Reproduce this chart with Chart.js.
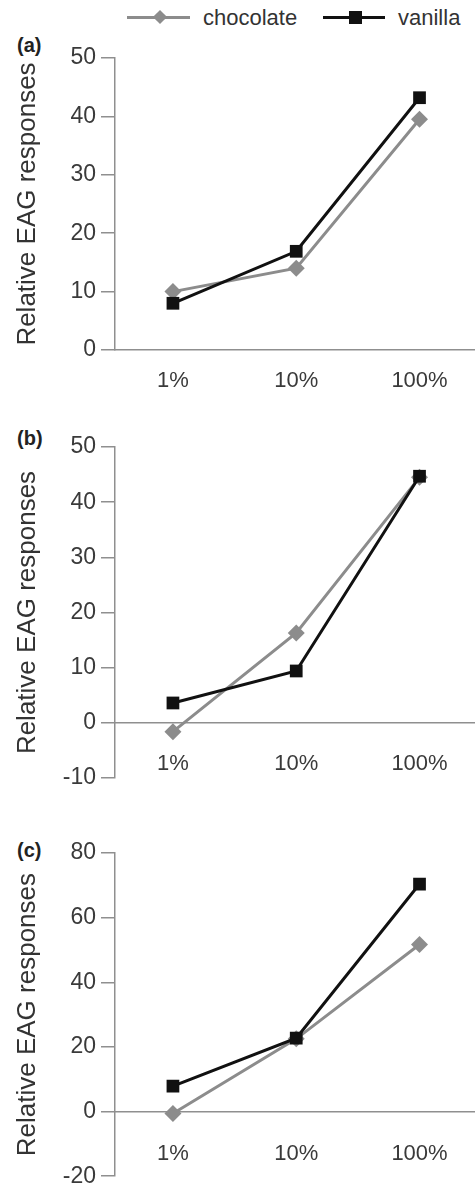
<!DOCTYPE html>
<html>
<head>
<meta charset="utf-8">
<script src="https://cdn.jsdelivr.net/npm/chart.js@4.4.1/dist/chart.umd.min.js"></script>
<style>
body{margin:0;background:#fff;width:475px;height:1195px;position:relative;overflow:hidden;font-family:"Liberation Sans",Arial,sans-serif;}
.box{position:absolute;left:0;width:475px;}
.tag{position:absolute;left:17px;font-weight:bold;font-size:20px;line-height:20px;color:#222;}
.leg{position:absolute;}
.txt{position:absolute;top:5px;font-size:22px;line-height:26px;color:#333;}
</style>
</head>
<body>
<div class="leg" style="left:127px;top:16px;width:63px;height:3px;background:#8c8c8c"></div>
<div class="leg" style="left:155px;top:12px;width:10px;height:10px;background:#8c8c8c;transform:rotate(45deg)"></div>
<div class="txt" style="left:203px">chocolate</div>
<div class="leg" style="left:323px;top:16px;width:62px;height:3px;background:#111"></div>
<div class="leg" style="left:349px;top:11px;width:13px;height:13px;background:#111"></div>
<div class="txt" style="left:398px">vanilla</div>

<div class="tag" style="top:35px">(a)</div>
<div class="tag" style="top:428px">(b)</div>
<div class="tag" style="top:840px">(c)</div>

<div class="box" style="top:38px;height:360px"><canvas id="chartA"></canvas></div>
<div class="box" style="top:427px;height:371px"><canvas id="chartB"></canvas></div>
<div class="box" style="top:833px;height:362px"><canvas id="chartC"></canvas></div>

<script>
// categories (concentration)
var categories = ["1%", "10%", "100%"];

// (a)
var chocA = [10.0, 14.0, 39.5];
var vanA = [8.0, 16.9, 43.2];
// (b)
var chocB = [-1.6, 16.3, 44.5];
var vanB = [3.6, 9.4, 44.7];
// (c)
var chocC = [-0.6, 22.5, 51.7];
var vanC = [7.9, 22.7, 70.4];

// min, max, step
var yTicksA = [0, 50, 10];
var yTicksB = [-10, 50, 10];
var yTicksC = [-20, 80, 20];

var axisColor = '#8f8f8f';
var textColor = '#3a3a3a';

function toPoints(arr) {
	return arr.map(function(v, i) { return {x: i, y: v}; });
}

function makeChart(id, choc, van, yt, padTop, padBottom, xPad) {
	var ctx = document.getElementById(id).getContext('2d');
	return new Chart(ctx, {
		type: 'line',
		data: {
			datasets: [{
				label: 'vanilla',
				data: toPoints(van),
				borderColor: '#111',
				backgroundColor: '#111',
				borderWidth: 3,
				pointStyle: 'rect',
				pointRadius: 9,
				pointBorderWidth: 0,
				order: 0
			}, {
				label: 'chocolate',
				data: toPoints(choc),
				borderColor: '#8c8c8c',
				backgroundColor: '#8c8c8c',
				borderWidth: 3,
				pointStyle: 'rectRot',
				pointRadius: 8.5,
				pointBorderWidth: 0,
				order: 1
			}]
		},
		options: {
			responsive: true,
			maintainAspectRatio: false,
			animation: false,
			layout: {autoPadding: false, padding: {top: padTop, bottom: padBottom, left: 0, right: 0}},
			plugins: {legend: {display: false}, tooltip: {enabled: false}},
			scales: {
				x: {
					type: 'linear',
					position: {y: 0},
					min: -0.47,
					max: 2.45,
					afterBuildTicks: function(scale) {
						scale.ticks = categories.map(function(c, i) { return {value: i}; });
					},
					afterFit: function(scale) {
						scale.paddingLeft = 0;
						scale.paddingRight = 0;
					},
					grid: {drawOnChartArea: false, drawTicks: false},
					border: {color: axisColor, width: 1.5},
					ticks: {
						padding: xPad,
						color: textColor,
						font: {size: 22, family: 'Liberation Sans'},
						callback: function(v) { return categories[v]; }
					}
				},
				y: {
					min: yt[0],
					max: yt[1],
					afterFit: function(scale) { scale.width = 115; },
					grid: {drawOnChartArea: false, drawTicks: true, tickLength: 14, color: axisColor, lineWidth: 1.5},
					border: {color: axisColor, width: 1.5},
					ticks: {
						stepSize: yt[2],
						padding: 5,
						color: textColor,
						font: {size: 23, family: 'Liberation Sans'}
					},
					title: {
						display: true,
						text: 'Relative EAG responses',
						color: '#333',
						padding: {top: 12, bottom: 0},
						font: {size: 26, family: 'Liberation Sans'}
					}
				}
			}
		}
	});
}

makeChart('chartA', chocA, vanA, yTicksA, 20, 48, 18);
makeChart('chartB', chocB, vanB, yTicksB, 20, 20, 28);
makeChart('chartC', chocC, vanC, yTicksC, 20, 12, 29);
</script>
</body>
</html>
